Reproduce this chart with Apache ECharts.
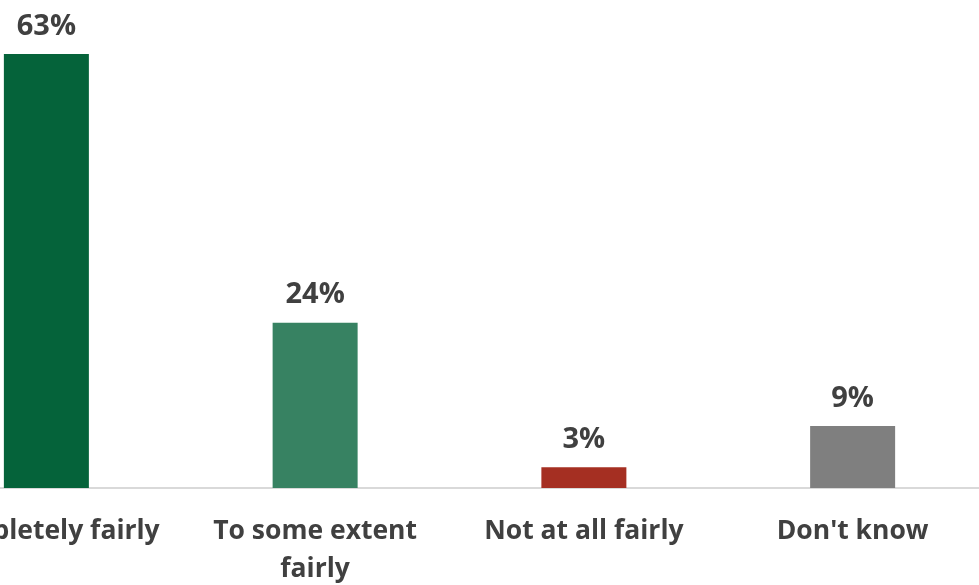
<!DOCTYPE html>
<html><head><meta charset="utf-8">
<script src="https://cdn.jsdelivr.net/npm/echarts@6/dist/echarts.min.js"></script>
<style>html,body{margin:0;padding:0;background:#fff}#c{width:979px;height:585px}</style>
</head><body><div id="c"></div>
<script>
const categories = ["Completely fairly", "To some extent\nfairly", "Not at all fairly", "Don't know"];
const values = [63, 24, 3, 9];
const colors = ["#05633A", "#378262", "#A52F22", "#7F7F7F"];

const chart = echarts.init(document.getElementById('c'), null, {renderer: 'canvas'});
chart.setOption({
  animation: false,
  grid: {left: -88, right: -8, top: 54, bottom: 97, containLabel: false, outerBoundsMode: 'none'},
  xAxis: {
    type: 'category', data: categories,
    axisLine: {show: true, lineStyle: {color: '#D9D9D9', width: 2}},
    axisTick: {show: false},
    axisLabel: {interval: 0, color: '#404040', fontFamily: 'Open Sans', fontWeight: 'bold', fontSize: 26.5, lineHeight: 38, margin: 24}
  },
  yAxis: {type: 'value', min: 0, max: 63, show: false, splitLine: {show: false}},
  series: [{
    type: 'bar', barWidth: 85,
    data: values.map((v, i) => ({value: v, itemStyle: {color: colors[i]}})),
    label: {show: true, position: 'top', distance: 13, formatter: '{c}%', color: '#404040', fontFamily: 'Open Sans', fontWeight: 'bold', fontSize: 29}
  }]
});
</script></body></html>
